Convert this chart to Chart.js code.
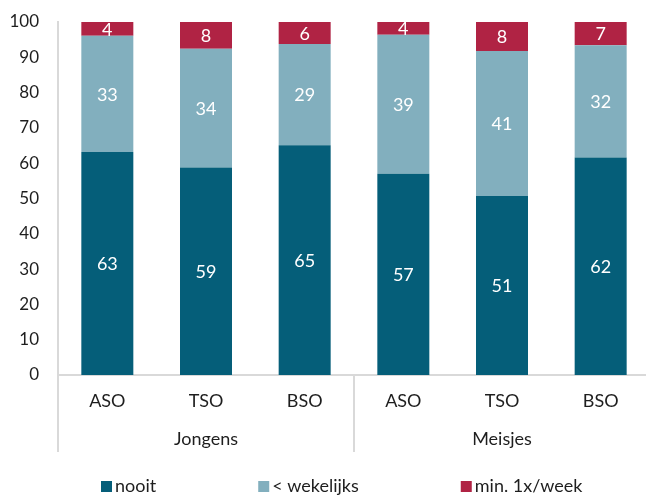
<!DOCTYPE html>
<html>
<head>
  <title>Frequentie per richting en geslacht</title>
  <style>
    body {
      margin: 0;
      padding: 0;
      background-color: #ffffff;
      overflow: hidden;
    }
    canvas {
      display: block;
    }
  </style>
  <script src="https://cdn.jsdelivr.net/npm/chart.js"></script>
</head>
<body>
  <canvas id="chart" width="650" height="495"></canvas>

  <script>
    // categorieën (twee niveaus op de x-as)
    var groepen = ['Jongens', 'Meisjes'];
    var richtingen = ['ASO', 'TSO', 'BSO', 'ASO', 'TSO', 'BSO'];

    var reeksNamen = ['nooit', '< wekelijks', 'min. 1x/week'];
    var nooit = [63.2, 58.8, 65.1, 57.0, 50.7, 61.6];
    var minderDanWekelijks = [32.9, 33.6, 28.7, 39.4, 41.1, 31.8];
    var minstensWekelijks = [3.9, 7.6, 6.2, 3.6, 8.2, 6.6];

    // y-as
    var yMin = 0;
    var yMax = 100;
    var yStap = 10;

    var kleuren = ['#055e79', '#82afbe', '#b02344'];
    var tekstKleur = '#1e1e1e';
    var lijnKleur = '#d9d9d9';
    var lettertype = 'Lato, "Open Sans", sans-serif';

    Chart.defaults.font.family = lettertype;
    Chart.defaults.font.size = 18;
    Chart.defaults.color = tekstKleur;

    // waarden in de staven tekenen
    var waardeLabels = {
      id: 'waardeLabels',
      afterDatasetsDraw: function(chart) {
        var ctx = chart.ctx;
        ctx.save();
        ctx.font = '18px ' + lettertype;
        ctx.fillStyle = '#ffffff';
        ctx.textAlign = 'center';
        ctx.textBaseline = 'middle';
        chart.data.datasets.forEach(function(ds, i) {
          var meta = chart.getDatasetMeta(i);
          meta.data.forEach(function(bar, j) {
            var y = (bar.y + bar.base) / 2;
            ctx.fillText(Math.round(ds.data[j]), bar.x, y + 1);
          });
        });
        ctx.restore();
      }
    };

    // groepen onder de x-as, scheidingslijnen en legende
    var extraAs = {
      id: 'extraAs',
      afterDraw: function(chart) {
        var ctx = chart.ctx;
        var x = chart.scales.x;
        var area = chart.chartArea;
        var perGroep = richtingen.length / groepen.length;
        ctx.save();

        // verticale lijnen tussen de groepen
        ctx.strokeStyle = lijnKleur;
        ctx.lineWidth = 2;
        for (var g = 0; g <= groepen.length; g++) {
          var lx;
          if (g === 0) lx = area.left;
          else if (g === groepen.length) lx = area.right;
          else lx = (x.getPixelForValue(g * perGroep - 1) + x.getPixelForValue(g * perGroep)) / 2;
          ctx.beginPath();
          ctx.moveTo(lx, area.bottom);
          ctx.lineTo(lx, area.bottom + 77);
          ctx.stroke();
        }

        // groepnamen
        ctx.font = '18px ' + lettertype;
        ctx.fillStyle = tekstKleur;
        ctx.textAlign = 'center';
        ctx.textBaseline = 'alphabetic';
        groepen.forEach(function(naam, g) {
          var midden = (x.getPixelForValue(g * perGroep) + x.getPixelForValue((g + 1) * perGroep - 1)) / 2;
          ctx.fillText(naam, midden, area.bottom + 70);
        });

        // legende
        ctx.textAlign = 'left';
        var lx2 = 101;
        var ly = 492;
        chart.data.datasets.forEach(function(ds) {
          ctx.fillStyle = ds.backgroundColor;
          ctx.fillRect(lx2, ly - 11, 11, 11);
          ctx.fillStyle = tekstKleur;
          ctx.fillText(ds.label, lx2 + 14, ly);
          lx2 += 14 + ctx.measureText(ds.label).width + 102;
        });

        ctx.restore();
      }
    };

    var chart = new Chart(document.getElementById('chart'), {
      type: 'bar',
      data: {
        labels: richtingen,
        datasets: [
          { label: reeksNamen[0], data: nooit, backgroundColor: kleuren[0] },
          { label: reeksNamen[1], data: minderDanWekelijks, backgroundColor: kleuren[1] },
          { label: reeksNamen[2], data: minstensWekelijks, backgroundColor: kleuren[2] }
        ]
      },
      options: {
        responsive: false,
        animation: false,
        layout: {
          padding: { top: 22, left: 0, right: 0, bottom: 0 }
        },
        datasets: {
          bar: {
            barPercentage: 0.527,
            categoryPercentage: 1,
            borderWidth: 0
          }
        },
        plugins: {
          legend: { display: false },
          tooltip: { enabled: false }
        },
        scales: {
          x: {
            stacked: true,
            grid: { display: false, drawTicks: false },
            border: { display: true, color: lijnKleur, width: 2 },
            ticks: { padding: 15, color: tekstKleur, maxRotation: 0 },
            afterFit: function(scale) { scale.height = 120; }
          },
          y: {
            stacked: true,
            min: yMin,
            max: yMax,
            grid: { display: false, drawTicks: false },
            border: { display: true, color: lijnKleur, width: 2 },
            ticks: { stepSize: yStap, padding: 19, color: tekstKleur, font: { size: 17 } },
            afterFit: function(scale) {
              scale.width = 58;
              scale.paddingTop = 0;
              scale.paddingBottom = 0;
            }
          }
        }
      },
      plugins: [waardeLabels, extraAs]
    });
  </script>
</body>
</html>
